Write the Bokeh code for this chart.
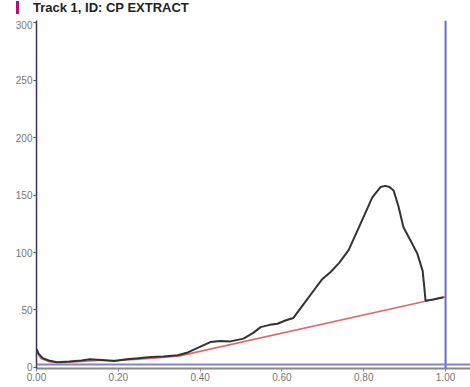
from bokeh.plotting import figure
from bokeh.models import Span, FixedTicker, NumeralTickFormatter, Div
from bokeh.layouts import column
from bokeh.embed import file_html
from bokeh.resources import INLINE

title_text = "Track 1, ID: CP EXTRACT"

curve_x = [0.0, 0.005, 0.015, 0.03, 0.05, 0.08, 0.11, 0.13, 0.16, 0.19, 0.22, 0.25,
           0.28, 0.31, 0.345, 0.37, 0.394, 0.425, 0.45, 0.474, 0.506, 0.53, 0.548,
           0.57, 0.589, 0.61, 0.628, 0.653, 0.68, 0.699, 0.719, 0.74, 0.763, 0.792,
           0.821, 0.841, 0.853, 0.863, 0.873, 0.885, 0.897, 0.915, 0.931, 0.944,
           0.948, 0.951, 0.97, 0.995]
curve_y = [16, 12, 8, 6, 4.5, 5, 6, 7, 6.5, 5.5, 7, 8,
           9, 9.5, 10.5, 13, 17, 22, 23, 22.6, 25, 30, 35,
           37, 38, 41, 43, 55, 68, 77, 83, 91, 102, 125,
           148, 157, 158, 157, 154, 140, 122, 110, 99, 84,
           70, 58, 59, 61]

base_x = [0.0, 0.01, 0.03, 0.06, 0.1, 0.15, 0.2, 0.25, 0.3, 0.35, 1.0]
base_y = [14, 8, 5, 4, 5, 6, 6, 7, 8.5, 10, 61.5]

marker_x = 1.0
marker_y = 2.5

x_ticks = [0.0, 0.2, 0.4, 0.6, 0.8, 1.0]
y_ticks = [0, 50, 100, 150, 200, 250, 300]

header = Div(text=('<div style="margin:0 0 0 16px;padding-left:14px;'
                   'border-left:3px solid #b0127a;font-family:Arial,\'Liberation Sans\',sans-serif;'
                   'font-weight:bold;font-size:13px;line-height:13px;color:#222222;'
                   'white-space:nowrap;">' + title_text + '</div>'),
             width=470, height=20, margin=(0, 0, 0, 0))

p = figure(width=470, height=367, output_backend="svg", toolbar_location=None,
           x_range=(0, 1.061), y_range=(-1, 302),
           min_border_left=36, min_border_right=0, min_border_top=0,
           min_border_bottom=19, margin=(0, 0, 0, 0))
p.grid.visible = False
p.outline_line_color = None
p.background_fill_color = "white"

p.line(base_x, base_y, line_color="#e06a6a", line_width=1.6)
p.line(curve_x, curve_y, line_color="#333333", line_width=2)

p.add_layout(Span(location=marker_x, dimension="height", line_color="#6a6ad0", line_width=2))
p.add_layout(Span(location=marker_y, dimension="width", line_color="#8080e0", line_width=2))

p.xaxis.ticker = FixedTicker(ticks=x_ticks)
p.yaxis.ticker = FixedTicker(ticks=y_ticks)
p.xaxis.formatter = NumeralTickFormatter(format="0.00")
for ax in (p.xaxis, p.yaxis):
    ax.major_label_text_font = "Arial"
    ax.major_label_text_font_size = "10px"
    ax.major_label_text_color = "#777777"
    ax.minor_tick_line_color = None
    ax.major_tick_in = 0
    ax.major_tick_out = 3
    ax.major_label_standoff = 1
p.xaxis.axis_line_color = "#888888"
p.xaxis.axis_line_width = 2
p.xaxis.major_tick_line_color = "#888888"
p.yaxis.axis_line_color = "#333366"
p.yaxis.axis_line_width = 1.5
p.yaxis.major_tick_line_color = "#555555"

layout = column(header, p, spacing=0)

open("out.html", "w").write(file_html(layout, INLINE))
